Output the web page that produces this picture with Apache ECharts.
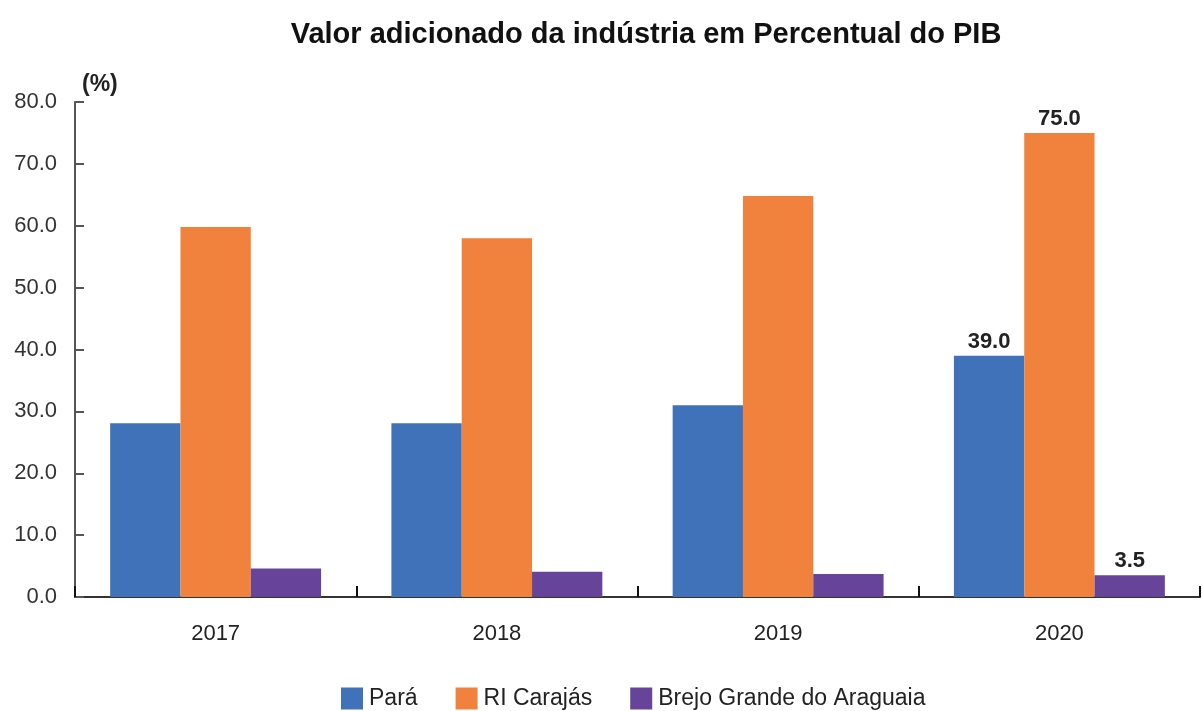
<!DOCTYPE html>
<html>
<head>
<meta charset="utf-8">
<title>Valor adicionado da indústria</title>
<script src="https://cdn.jsdelivr.net/npm/echarts@6/dist/echarts.min.js"></script>
<style>
    html, body { margin: 0; padding: 0; background: #fff; }
    #chart { width: 1202px; height: 711px; }
</style>
</head>
<body>
<div id="chart"></div>
<script>
var anos = ['2017', '2018', '2019', '2020'];
var para = [28.1, 28.1, 31.0, 39.0];
var carajas = [59.8, 58.0, 64.8, 75.0];
var brejo = [4.6, 4.1, 3.7, 3.5];
var nomes = ['Pará', 'RI Carajás', 'Brejo Grande do Araguaia'];
var cores = ['#3F72B9', '#F0823D', '#664499'];

// so o ultimo ano leva rotulo
function comRotulo(valores) {
    return valores.map(function (v, i) {
        return {
            value: v,
            label: { show: i == valores.length - 1 }
        };
    });
}

var myChart = echarts.init(document.getElementById('chart'));
var series = [para, carajas, brejo].map(function (d, i) {
    return {
        name: nomes[i],
        type: 'bar',
        barGap: '0%',
        barCategoryGap: '25%',
        itemStyle: { color: cores[i] },
        label: {
            position: 'top',
            distance: 3,
            color: '#222',
            fontSize: 22,
            fontWeight: 'bold',
            formatter: function (p) { return p.value.toFixed(1); }
        },
        data: comRotulo(d)
    };
});

var option = {
    animation: false,
    backgroundColor: '#fff',
    textStyle: { fontFamily: 'Liberation Sans, Arial, sans-serif' },
    title: {
        text: 'Valor adicionado da indústria em Percentual do PIB',
        left: 641,
        textAlign: 'center',
        top: 15,
        textStyle: { fontSize: 29, fontWeight: 'bold', color: '#111' }
    },
    legend: {
        data: nomes,
        top: 682,
        left: 336,
        itemWidth: 22,
        itemHeight: 22,
        itemGap: 38,
        icon: 'rect',
        textStyle: { fontSize: 23, color: '#222', padding: [0, 0, 0, 1] }
    },
    grid: { left: 75, right: 2, top: 102, bottom: 114 },
    xAxis: {
        type: 'category',
        data: anos,
        axisLine: { lineStyle: { color: '#333', width: 2 } },
        axisTick: { show: true, inside: true, length: 11, lineStyle: { color: '#111', width: 2 } },
        axisLabel: { fontSize: 22, color: '#222', margin: 26 }
    },
    yAxis: {
        type: 'value',
        min: 0,
        max: 80,
        interval: 10,
        name: '(%)',
        nameLocation: 'end',
        nameGap: 6,
        nameTextStyle: { fontSize: 23, fontWeight: 'bold', color: '#222', align: 'left', padding: [0, 0, 0, 7] },
        axisLine: { show: true, lineStyle: { color: '#555', width: 2 } },
        axisTick: { show: true, inside: true, length: 9, lineStyle: { color: '#555', width: 2 } },
        splitLine: { show: false },
        axisLabel: {
            fontSize: 22,
            color: '#333',
            margin: 18,
            formatter: function (v) { return v.toFixed(1); }
        }
    },
    series: series
};
myChart.setOption(option);
</script>
</body>
</html>
